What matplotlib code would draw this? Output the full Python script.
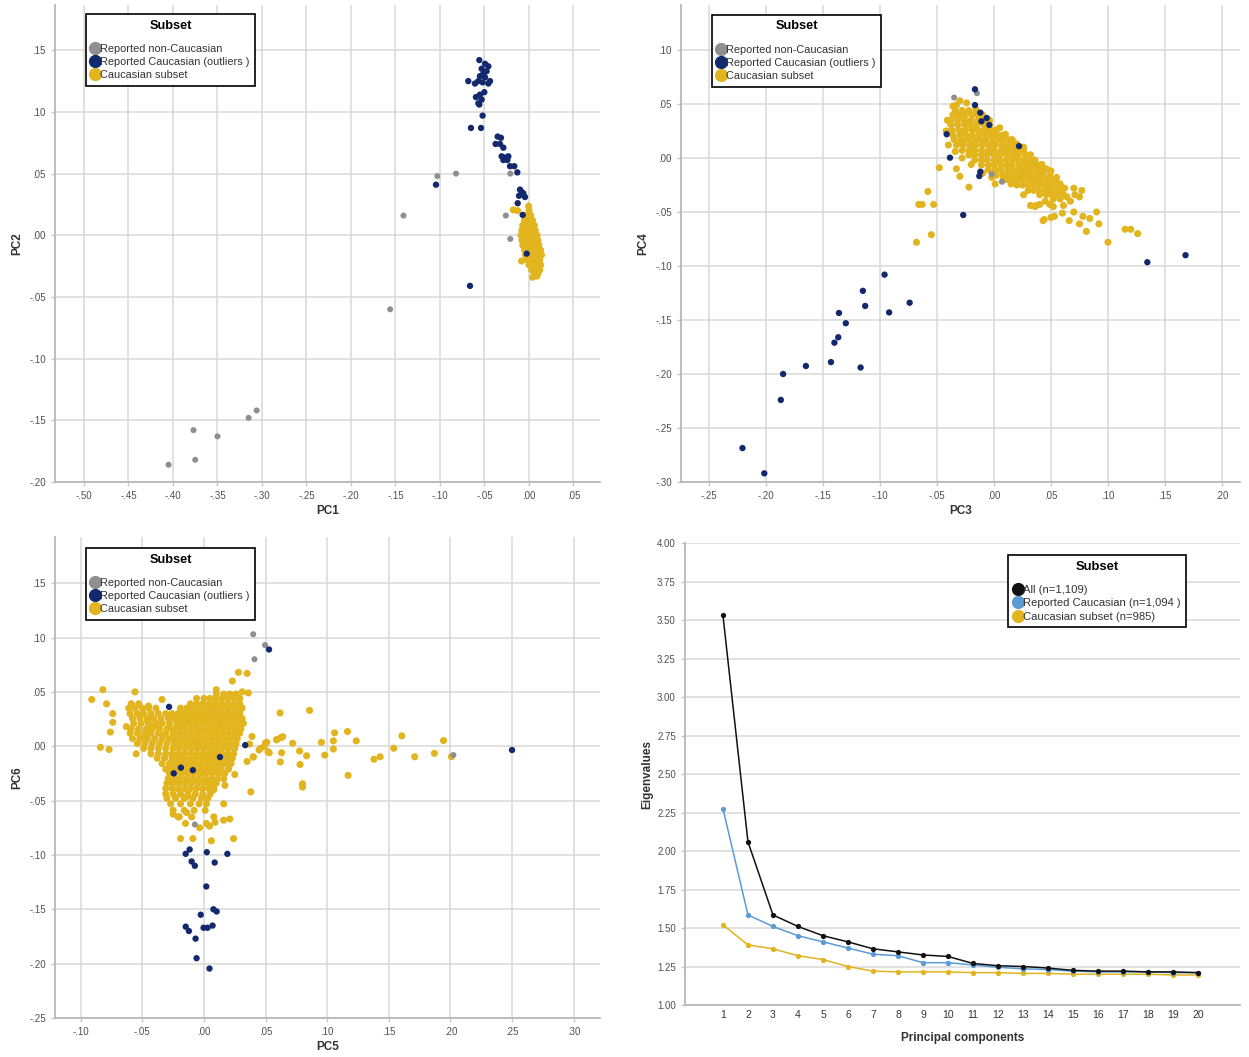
import numpy as np
import matplotlib
matplotlib.use("Agg")
from matplotlib import pyplot as plt
from matplotlib.lines import Line2D
from matplotlib.ticker import FuncFormatter

plt.rcParams["font.family"] = ["Liberation Sans", "DejaVu Sans"]

GRAY = "#8f8f8f"
NAVY = "#13296e"
GOLD = "#e2b41e"
LIGHT_BLUE = "#5b9bd5"
SUBSETS = ["Reported non-Caucasian", "Reported Caucasian (outliers )", "Caucasian subset"]

# ---- PC1 vs PC2 ----
pc12_noncauc = [(-0.103, 0.048), (-0.082, 0.050), (-0.141, 0.016), (-0.021, 0.050),
                (-0.026, 0.016), (-0.021, -0.003), (-0.156, -0.060), (-0.306, -0.142),
                (-0.315, -0.148), (-0.377, -0.158), (-0.350, -0.163), (-0.375, -0.182),
                (-0.405, -0.186)]
pc12_outliers = [(-0.0558, 0.142), (-0.0457, 0.137), (-0.0494, 0.139), (-0.0532, 0.135),
                 (-0.0476, 0.133), (-0.0513, 0.131), (-0.0551, 0.129), (-0.0494, 0.128),
                 (-0.0438, 0.125), (-0.0457, 0.123), (-0.0521, 0.124), (-0.0682, 0.125),
                 (-0.0607, 0.123), (-0.0569, 0.125), (-0.0502, 0.116), (-0.0551, 0.114),
                 (-0.0596, 0.112), (-0.0532, 0.110), (-0.0558, 0.106), (-0.0569, 0.107),
                 (-0.0521, 0.097), (-0.0652, 0.087), (-0.0539, 0.087), (-0.0352, 0.080),
                 (-0.0315, 0.079), (-0.0375, 0.074), (-0.0326, 0.074), (-0.0288, 0.071),
                 (-0.0307, 0.064), (-0.0270, 0.063), (-0.0232, 0.064), (-0.0288, 0.061),
                 (-0.0243, 0.061), (-0.0213, 0.056), (-0.0165, 0.056), (-0.0131, 0.051),
                 (-0.0101, 0.037), (-0.0064, 0.034), (-0.0112, 0.032), (-0.0045, 0.031),
                 (-0.0082, 0.035), (-0.0127, 0.026), (-0.1045, 0.041), (-0.0663, -0.041),
                 (-0.0071, 0.0165), (-0.0026, -0.0149)]
pc12_subset_rows = {
    0.020: [0.000],
    0.016: [-0.003, 0.002],
    0.012: [-0.005, 0.000, 0.004],
    0.008: [-0.007, -0.002, 0.003, 0.006],
    0.004: [-0.008, -0.003, 0.002, 0.007],
    0.000: [-0.009, -0.004, 0.001, 0.006, 0.009],
    -0.004: [-0.008, -0.003, 0.002, 0.007, 0.010],
    -0.008: [-0.007, -0.002, 0.003, 0.008, 0.011],
    -0.012: [-0.005, 0.000, 0.005, 0.010, 0.013],
    -0.016: [-0.004, 0.001, 0.006, 0.011, 0.014],
    -0.020: [-0.002, 0.003, 0.008, 0.012],
    -0.024: [0.000, 0.005, 0.010, 0.013],
    -0.028: [0.003, 0.008, 0.012],
    -0.031: [0.006, 0.010],
}
pc12_subset_extra = [(-0.0004, 0.0236), (-0.0177, 0.0206), (-0.0129, 0.020),
                     (-0.0084, -0.0209), (0.0089, -0.033), (0.004, -0.034)]

# ---- PC3 vs PC4 ----
pc34_noncauc = [(-0.035, 0.056), (-0.015, 0.060), (-0.002, -0.015), (0.007, -0.022)]
pc34_outliers = [(-0.0167, 0.0636), (-0.0167, 0.049), (-0.012, 0.042), (-0.0064, 0.037),
                 (-0.011, 0.034), (-0.0041, 0.0306), (-0.0415, 0.022), (-0.0386, 0.0003),
                 (0.022, 0.011), (-0.012, -0.0127), (-0.0129, -0.0167), (-0.027, -0.0528),
                 (-0.096, -0.108), (-0.115, -0.123), (-0.113, -0.137), (-0.074, -0.134),
                 (-0.092, -0.143), (-0.136, -0.1435), (-0.130, -0.153), (-0.1366, -0.166),
                 (-0.140, -0.171), (-0.165, -0.1926), (-0.143, -0.189), (-0.117, -0.194),
                 (-0.185, -0.200), (-0.187, -0.224), (-0.2206, -0.2686), (-0.2015, -0.292),
                 (0.1345, -0.0965), (0.168, -0.090)]
pc34_subset_rows = {
    0.044: [-0.034, -0.028, -0.022],
    0.040: [-0.036, -0.030, -0.025, -0.019, -0.014],
    0.035: [-0.038, -0.032, -0.026, -0.020, -0.014, -0.008],
    0.031: [-0.038, -0.032, -0.026, -0.021, -0.015, -0.009, -0.004],
    0.026: [-0.037, -0.031, -0.025, -0.019, -0.014, -0.008, -0.003, 0.002],
    0.021: [-0.036, -0.030, -0.024, -0.019, -0.013, -0.007, -0.002, 0.003, 0.007],
    0.017: [-0.035, -0.029, -0.024, -0.018, -0.012, -0.007, -0.001, 0.004, 0.009, 0.013],
    0.012: [-0.033, -0.027, -0.021, -0.016, -0.010, -0.004, 0.001, 0.007, 0.013, 0.018],
    0.007: [-0.028, -0.022, -0.017, -0.011, -0.005, 0.000, 0.006, 0.011, 0.016, 0.021, 0.026],
    0.003: [-0.022, -0.017, -0.011, -0.006, 0.000, 0.005, 0.011, 0.016, 0.021, 0.027, 0.032],
    -0.002: [-0.017, -0.011, -0.006, 0.000, 0.005, 0.011, 0.016, 0.021, 0.026, 0.031, 0.036],
    -0.0065: [-0.011, -0.005, 0.000, 0.006, 0.011, 0.016, 0.022, 0.027, 0.032, 0.036, 0.040],
    -0.011: [-0.005, 0.001, 0.006, 0.012, 0.017, 0.022, 0.027, 0.032, 0.037, 0.041, 0.045],
    -0.016: [0.002, 0.008, 0.013, 0.018, 0.023, 0.028, 0.033, 0.038, 0.043, 0.049],
    -0.020: [0.011, 0.016, 0.021, 0.026, 0.031, 0.036, 0.041, 0.046, 0.050, 0.054],
    -0.025: [0.020, 0.025, 0.030, 0.035, 0.040, 0.045, 0.050, 0.055],
    -0.030: [0.030, 0.035, 0.040, 0.045, 0.050, 0.055, 0.059],
    -0.034: [0.040, 0.046, 0.051, 0.056, 0.061],
    -0.038: [0.052, 0.058],
}
pc34_subset_extra = [(-0.048, -0.009), (-0.033, -0.010), (-0.030, -0.017), (-0.058, -0.031),
                     (-0.066, -0.043), (-0.063, -0.043), (-0.053, -0.043), (-0.022, -0.027),
                     (-0.055, -0.071), (-0.068, -0.078), (0.046, -0.010), (0.062, -0.028),
                     (0.070, -0.028), (0.077, -0.030), (0.075, -0.036), (0.067, -0.040),
                     (0.061, -0.044), (0.052, -0.045), (0.053, -0.054), (0.044, -0.057),
                     (0.070, -0.050), (0.078, -0.054), (0.084, -0.056), (0.090, -0.050),
                     (0.092, -0.061), (0.081, -0.068), (0.075, -0.061), (0.100, -0.078),
                     (0.115, -0.066), (0.120, -0.066), (0.126, -0.070), (0.071, -0.034),
                     (0.026, -0.034), (0.032, -0.044), (0.037, -0.044), (0.049, -0.043),
                     (0.066, -0.058), (0.060, -0.051), (0.040, -0.043), (0.036, -0.045),
                     (0.043, -0.058), (0.050, -0.055), (-0.033, 0.049), (-0.024, 0.051),
                     (-0.036, 0.048), (-0.030, 0.053), (0.026, 0.010), (0.035, -0.003),
                     (0.042, -0.006), (0.050, -0.012), (0.055, -0.018), (0.058, -0.024),
                     (0.064, -0.036), (0.045, -0.040), (0.015, -0.024), (0.008, -0.020),
                     (-0.002, -0.018), (-0.010, -0.014), (-0.020, -0.006), (-0.028, 0.000),
                     (-0.034, 0.006), (-0.040, 0.012), (-0.042, 0.025), (-0.041, 0.035),
                     (-0.016, 0.045), (-0.010, 0.040), (-0.004, 0.035), (0.005, 0.028),
                     (0.010, 0.022), (0.016, 0.017), (0.020, 0.013), (0.001, -0.024),
                     (-0.031, 0.0385), (-0.022, 0.0335), (-0.011, 0.024), (0.000, 0.014),
                     (0.008, 0.005), (0.018, 0.0005), (0.028, -0.009), (0.040, -0.018),
                     (0.048, -0.027), (-0.027, 0.024), (-0.017, 0.014), (-0.005, 0.005),
                     (0.004, -0.004), (0.013, -0.008), (0.024, -0.014), (0.035, -0.022),
                     (-0.030, 0.014), (-0.019, 0.028), (0.009, 0.010), (0.027, -0.005)]

# ---- PC5 vs PC6 ----
pc56_noncauc = [(0.040, 0.103), (0.0496, 0.093), (0.041, 0.080), (0.2024, -0.0081),
                (-0.0074, -0.072)]
pc56_outliers = [(0.0528, 0.089), (-0.0283, 0.0362), (0.0335, 0.001), (0.250, -0.0035),
                 (-0.0245, -0.025), (-0.0187, -0.0197), (-0.009, -0.022), (0.013, -0.010),
                 (-0.0148, -0.099), (-0.0116, -0.095), (-0.010, -0.106), (-0.0074, -0.110),
                 (0.0023, -0.0975), (0.0087, -0.107), (0.019, -0.099), (0.0019, -0.129),
                 (0.0077, -0.150), (0.0103, -0.152), (-0.0026, -0.155), (-0.0148, -0.166),
                 (-0.0122, -0.170), (-0.0003, -0.167), (0.0029, -0.167), (0.007, -0.165),
                 (-0.0068, -0.177), (-0.006, -0.195), (0.0045, -0.2045)]
pc56_subset_rows = {
    0.048: [0.010, 0.016, 0.021, 0.026],
    0.044: [-0.006, 0.000, 0.005, 0.010, 0.015, 0.020, 0.025, 0.029],
    0.039: [-0.059, -0.053, -0.011, -0.006, -0.001, 0.004, 0.009, 0.014, 0.019, 0.024, 0.029],
    0.035: [-0.061, -0.056, -0.050, -0.045, -0.039, -0.019, -0.014, -0.009, -0.004, 0.001,
            0.006, 0.011, 0.016, 0.021, 0.026, 0.031],
    0.030: [-0.060, -0.054, -0.049, -0.043, -0.037, -0.031, -0.026, -0.021, -0.016, -0.011,
            -0.006, -0.001, 0.004, 0.009, 0.014, 0.019, 0.024, 0.029],
    0.0255: [-0.058, -0.052, -0.046, -0.041, -0.035, -0.029, -0.024, -0.019, -0.014, -0.009,
             -0.004, 0.001, 0.006, 0.011, 0.016, 0.021, 0.026, 0.031],
    0.021: [-0.057, -0.051, -0.045, -0.039, -0.034, -0.028, -0.022, -0.017, -0.012, -0.007,
            -0.002, 0.003, 0.008, 0.013, 0.018, 0.023, 0.028, 0.032],
    0.016: [-0.059, -0.053, -0.047, -0.042, -0.036, -0.030, -0.025, -0.020, -0.015, -0.010,
            -0.005, 0.000, 0.005, 0.010, 0.015, 0.020, 0.025, 0.030],
    0.012: [-0.060, -0.054, -0.048, -0.043, -0.037, -0.031, -0.025, -0.020, -0.015, -0.010,
            -0.005, 0.000, 0.005, 0.010, 0.015, 0.020, 0.025, 0.029],
    0.007: [-0.058, -0.052, -0.046, -0.040, -0.034, -0.028, -0.023, -0.018, -0.013, -0.008,
            -0.003, 0.002, 0.007, 0.012, 0.017, 0.022, 0.027],
    0.0025: [-0.054, -0.048, -0.042, -0.036, -0.030, -0.024, -0.019, -0.014, -0.009, -0.004,
             0.001, 0.006, 0.011, 0.016, 0.021, 0.026],
    -0.002: [-0.049, -0.043, -0.037, -0.031, -0.025, -0.020, -0.015, -0.010, -0.005, 0.000,
             0.005, 0.010, 0.015, 0.020, 0.025],
    -0.007: [-0.043, -0.037, -0.031, -0.026, -0.021, -0.016, -0.011, -0.006, -0.001, 0.004,
             0.009, 0.014, 0.019, 0.024],
    -0.011: [-0.038, -0.032, -0.026, -0.021, -0.016, -0.011, -0.006, -0.001, 0.004, 0.009,
             0.014, 0.019, 0.023],
    -0.016: [-0.034, -0.028, -0.023, -0.018, -0.013, -0.008, -0.003, 0.002, 0.007, 0.012,
             0.017, 0.022],
    -0.021: [-0.031, -0.026, -0.021, -0.016, -0.011, -0.006, -0.001, 0.004, 0.009, 0.014, 0.020],
    -0.025: [-0.028, -0.023, -0.018, -0.013, -0.008, -0.003, 0.002, 0.007, 0.012, 0.017],
    -0.030: [-0.029, -0.024, -0.019, -0.014, -0.009, -0.004, 0.001, 0.006, 0.011, 0.016],
    -0.034: [-0.030, -0.025, -0.020, -0.015, -0.010, -0.005, 0.000, 0.005, 0.010],
    -0.039: [-0.031, -0.026, -0.021, -0.016, -0.011, -0.006, -0.001, 0.004, 0.008],
    -0.044: [-0.031, -0.025, -0.019, -0.013, -0.007, -0.001, 0.005],
    -0.048: [-0.030, -0.023, -0.016, -0.009, -0.002, 0.003],
    -0.053: [-0.027, -0.019, -0.011, -0.004, 0.002],
    -0.059: [-0.025, -0.016, -0.008, 0.001],
    -0.065: [-0.020, -0.010, 0.008],
}
pc56_subset_extra = [(-0.091, 0.043), (-0.082, 0.052), (-0.079, 0.039), (-0.074, 0.030),
                     (-0.074, 0.022), (-0.076, 0.013), (-0.084, -0.001), (-0.077, -0.003),
                     (-0.056, 0.050), (-0.055, -0.007), (-0.034, 0.043), (-0.045, 0.037),
                     (-0.063, 0.018), (0.023, 0.060), (0.028, 0.068), (0.035, 0.067),
                     (0.031, 0.050), (0.036, 0.049), (0.010, 0.052), (0.040, -0.010),
                     (0.046, -0.002), (0.050, 0.003), (0.052, -0.005), (0.059, 0.006),
                     (0.039, 0.009), (0.037, 0.002), (0.035, -0.014), (0.038, -0.042),
                     (0.025, -0.026), (0.017, -0.036), (0.016, -0.053), (-0.021, -0.065),
                     (-0.014, -0.061), (-0.015, -0.071), (0.002, -0.071), (0.009, -0.070),
                     (0.016, -0.068), (0.021, -0.067), (-0.019, -0.085), (-0.009, -0.085),
                     (0.006, -0.087), (0.024, -0.085), (-0.0035, -0.075), (0.0045, -0.0735),
                     (-0.025, -0.0625), (0.0447, -0.0035), (0.049, 0.000), (0.051, 0.0036),
                     (0.053, -0.006), (0.040, -0.0097), (0.059, 0.006), (0.0624, 0.008),
                     (0.0618, 0.0306), (0.064, 0.0088), (0.063, -0.006), (0.062, -0.0144),
                     (0.072, 0.0027), (0.0776, -0.0044), (0.078, -0.0168), (0.080, -0.0345),
                     (0.080, -0.0376), (0.0833, -0.0088), (0.0857, 0.033), (0.0953, 0.0036),
                     (0.098, -0.0082), (0.105, 0.0049), (0.106, 0.0123), (0.105, -0.0026),
                     (0.1165, 0.0135), (0.117, -0.0268), (0.1236, 0.0049), (0.138, -0.012),
                     (0.143, -0.0097), (0.154, -0.0019), (0.1606, 0.0095), (0.171, -0.0097),
                     (0.187, -0.0066), (0.1944, 0.0052), (0.2008, -0.0097),
                     (-0.008, 0.037), (0.007, 0.032), (0.018, 0.028), (-0.017, 0.019),
                     (-0.003, 0.014), (0.012, 0.018), (-0.008, 0.005), (0.009, -0.004),
                     (-0.012, -0.014), (0.004, -0.019), (0.019, -0.008), (-0.046, 0.024),
                     (-0.033, 0.010), (-0.040, 0.019), (-0.022, -0.031), (0.008, -0.040),
                     (-0.013, -0.046), (-0.024, 0.005), (0.027, 0.036), (-0.049, 0.009)]

# ---- scree plot ----
components = list(range(1, 21))
eig_all = [3.53, 2.06, 1.585, 1.51, 1.45, 1.41, 1.365, 1.345, 1.325, 1.315,
           1.27, 1.255, 1.25, 1.24, 1.225, 1.22, 1.22, 1.215, 1.215, 1.21]
eig_reported = [2.275, 1.585, 1.51, 1.45, 1.41, 1.37, 1.33, 1.32, 1.275, 1.275,
                1.26, 1.245, 1.235, 1.23, 1.22, 1.215, 1.215, 1.215, 1.21, 1.21]
eig_subset = [1.52, 1.39, 1.365, 1.32, 1.295, 1.25, 1.22, 1.215, 1.215, 1.215,
              1.21, 1.21, 1.205, 1.205, 1.2, 1.2, 1.2, 1.2, 1.195, 1.195]
scree_labels = ["All (n=1,109)", "Reported Caucasian (n=1,094 )", "Caucasian subset (n=985)"]


def _rows_to_points(rows):
    return [(x, y) for y, xs in rows.items() for x in xs]


def _spss_fmt(v, _pos=None):
    if abs(v) < 1e-9:
        return ".00"
    s = f"{v:.2f}"
    return s.replace("0.", ".", 1)


def _style_axes(ax, xticks, yticks, vgrid=True):
    for side in ("top", "right"):
        ax.spines[side].set_visible(False)
    for side in ("left", "bottom"):
        ax.spines[side].set_color("#b8b8b8")
        ax.spines[side].set_linewidth(1.3)
    ax.set_xticks(xticks)
    ax.set_yticks(yticks)
    ax.tick_params(labelsize=7, labelcolor="#505050", color="#c8c8c8", length=3, width=1)
    ax.grid(axis="y", color="#d9d9d9", linewidth=1.1)
    if vgrid:
        ax.grid(axis="x", color="#d9d9d9", linewidth=1.1)
    ax.set_axisbelow(True)


def _legend(ax, colors, labels, anchor, size=7.9):
    handles = [Line2D([], [], marker="o", linestyle="", markersize=8.5, color=c) for c in colors]
    leg = ax.legend(handles, labels, title="Subset", loc="upper left", bbox_to_anchor=anchor,
                    borderaxespad=0, fontsize=size, title_fontsize=size + 1.3, frameon=True,
                    fancybox=False, framealpha=1, handlelength=0.7, handletextpad=0.1,
                    labelspacing=0.28, borderpad=0.5)
    leg.get_title().set_fontweight("bold")
    leg._legend_box.sep = 9
    leg.get_frame().set_edgecolor("black")
    leg.get_frame().set_linewidth(1.2)
    for t in leg.get_texts():
        t.set_color("#333333")
    return leg


def _scatter_panel(ax, noncauc, outliers, subset, xlabel, ylabel):
    sx, sy = zip(*subset)
    ax.scatter(sx, sy, s=26, color=GOLD, edgecolors="none", zorder=2)
    gx, gy = zip(*noncauc)
    ax.scatter(gx, gy, s=19, color=GRAY, edgecolors="none", zorder=3)
    ox, oy = zip(*outliers)
    ax.scatter(ox, oy, s=21, color=NAVY, edgecolors="none", zorder=3)
    ax.xaxis.set_major_formatter(FuncFormatter(_spss_fmt))
    ax.yaxis.set_major_formatter(FuncFormatter(_spss_fmt))
    ax.set_xlabel(xlabel, fontsize=8.5, fontweight="bold", color="#333333", labelpad=3)
    ax.set_ylabel(ylabel, fontsize=8.5, fontweight="bold", color="#333333", labelpad=4)


fig = plt.figure(figsize=(12.49, 10.57), dpi=100)

ax1 = fig.add_axes([0.044, 0.544, 0.4364, 0.4513])
_scatter_panel(ax1, pc12_noncauc, pc12_outliers,
               _rows_to_points(pc12_subset_rows) + pc12_subset_extra, "PC1", "PC2")
_style_axes(ax1, np.round(np.arange(-0.50, 0.051, 0.05), 2), np.round(np.arange(-0.20, 0.151, 0.05), 2))
ax1.set_xlim(-0.5326, 0.0798)
ax1.set_ylim(-0.20, 0.1867)
_legend(ax1, [GRAY, NAVY, GOLD], SUBSETS, (0.057, 0.981))

ax2 = fig.add_axes([0.5452, 0.544, 0.4476, 0.4513])
_scatter_panel(ax2, pc34_noncauc, pc34_outliers,
               _rows_to_points(pc34_subset_rows) + pc34_subset_extra, "PC3", "PC4")
_style_axes(ax2, np.round(np.arange(-0.25, 0.201, 0.05), 2), np.round(np.arange(-0.30, 0.101, 0.05), 2))
ax2.set_xlim(-0.2746, 0.2158)
ax2.set_ylim(-0.30, 0.1417)
_legend(ax2, [GRAY, NAVY, GOLD], SUBSETS, (0.0555, 0.979))

ax3 = fig.add_axes([0.044, 0.0369, 0.4364, 0.455])
_scatter_panel(ax3, pc56_noncauc, pc56_outliers,
               _rows_to_points(pc56_subset_rows) + pc56_subset_extra, "PC5", "PC6")
_style_axes(ax3, np.round(np.arange(-0.10, 0.301, 0.05), 2), np.round(np.arange(-0.25, 0.151, 0.05), 2))
ax3.set_xlim(-0.1209, 0.3214)
ax3.set_ylim(-0.25, 0.1924)
_legend(ax3, [GRAY, NAVY, GOLD], SUBSETS, (0.057, 0.977))

ax4 = fig.add_axes([0.5484, 0.0492, 0.4444, 0.437])
for vals, col in [(eig_all, "#111111"), (eig_reported, LIGHT_BLUE), (eig_subset, GOLD)][::-1]:
    ax4.plot(components, vals, color=col, linewidth=1.1, marker="o", markersize=3.8,
             markeredgewidth=0)
_style_axes(ax4, components, np.round(np.arange(1.0, 4.01, 0.25), 2), vgrid=False)
ax4.yaxis.set_major_formatter(FuncFormatter(lambda v, _p: f"{v:.2f}"))
ax4.tick_params(axis="x", length=0, labelsize=7.5, labelcolor="#333333")
ax4.set_xlim(-0.52, 21.68)
ax4.set_ylim(1.0, 4.0)
ax4.set_xlabel("Principal components", fontsize=8.5, fontweight="bold", color="#333333", labelpad=9)
ax4.set_ylabel("Eigenvalues", fontsize=8.5, fontweight="bold", color="#333333", labelpad=3)
_legend(ax4, ["#111111", LIGHT_BLUE, GOLD], scree_labels, (0.582, 0.974), size=8.1)

fig.savefig("out.png", dpi=100, facecolor="white")
